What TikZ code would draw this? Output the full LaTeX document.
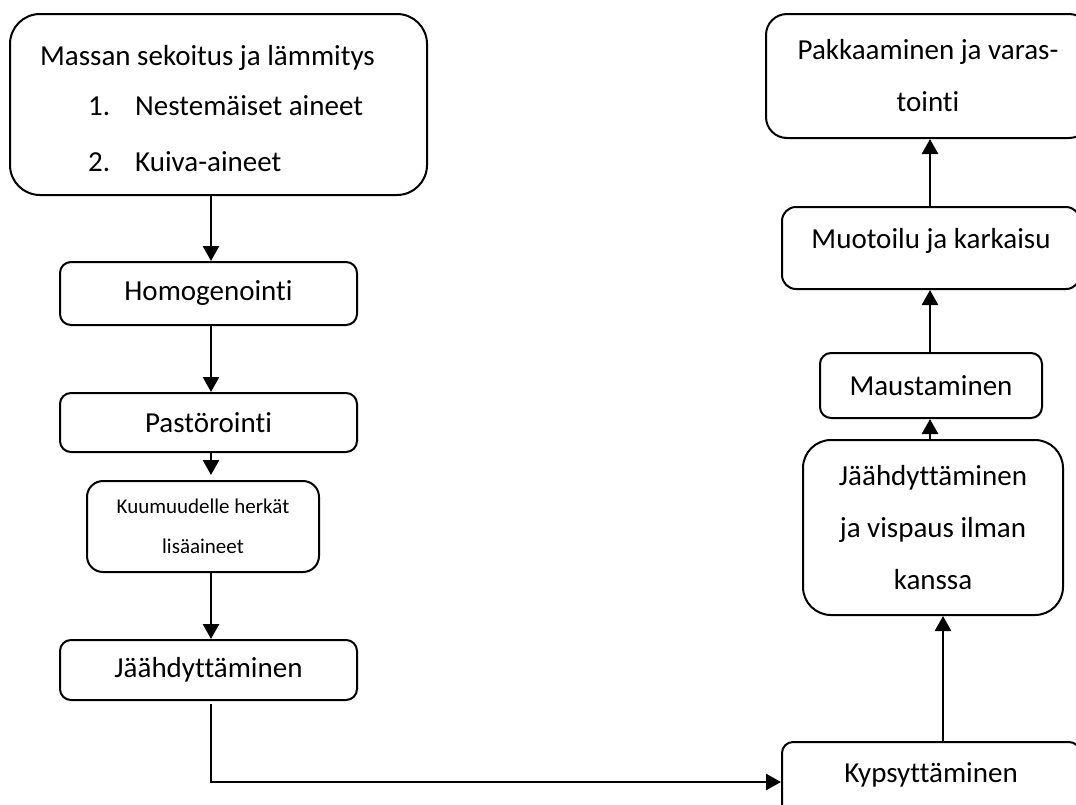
\documentclass[tikz,border=0pt]{standalone}
\usepackage{fontspec}
\setmainfont{Carlito}[RawFeature={-liga;-clig;-calt;-rlig;-dlig}]
\usetikzlibrary{arrows.meta}
\newcommand{\nolig}{\kern0pt }
\begin{document}
\begin{tikzpicture}[x=1pt,y=-1pt,
  box/.style={draw, line width=2pt, inner sep=0pt, align=center, font=\fontsize{29}{52}\selectfont},
  small/.style={font=\fontsize{21}{40}\selectfont},
  arr/.style={line width=2.6pt, -{Triangle[length=15pt,width=16pt]}},
  lbl/.style={anchor=base west, inner sep=0pt, font=\fontsize{29}{35}\selectfont}]
\fill[white] (0,0) rectangle (1076,804);
\useasboundingbox (0,0) rectangle (1076,804);

% left column
\node[box, rounded corners=30pt, minimum width=417pt, minimum height=181pt] (mix) at (218.5,104.5) {};
\node[lbl] (t0) at (40,65) {Massan sekoitus ja lämmitys};
\node[lbl] (n1) at (88,115) {1.};
\node[lbl] (t1) at (135,115) {Nestemäiset aineet};
\node[lbl] (n2) at (88,171) {2.};
\node[lbl] (t2) at (135,171) {Kuiva-aineet};

\node[box, rounded corners=11pt, minimum width=297pt, minimum height=63pt] (hom) at (208.5,293.5) {Homogenoint\nolig i};
\node[box, rounded corners=11pt, minimum width=297pt, minimum height=59pt] (pas) at (208.5,422.5) {Pastöroint\nolig i};
\node[box, small, rounded corners=16pt, minimum width=232pt, minimum height=91pt] (kuu) at (203,526.5) {Kuumuudelle herkät\\lisäaineet};
\node[box, rounded corners=11pt, minimum width=297pt, minimum height=60pt] (jaa) at (208.5,670) {Jäähdyttäminen};

% right column
\node[box, rounded corners=11pt, minimum width=298pt, minimum height=80pt, text height=18pt, text depth=18pt] (kyp) at (931,782) {Kypsyttäminen};
\node[box, rounded corners=28pt, minimum width=260pt, minimum height=175pt] (jv) at (933,527.5) {Jäähdyttäminen\\ja vispaus ilman\\kanssa};
\node[box, rounded corners=11pt, minimum width=222pt, minimum height=65pt] (mau) at (931,385.5) {Maustaminen};
\node[box, rounded corners=14pt, minimum width=298pt, minimum height=82pt, text height=18pt, text depth=18pt] (muo) at (931,248) {Muotoilu ja karkaisu};
\node[box, rounded corners=21pt, minimum width=324pt, minimum height=124pt] (pak) at (928,76) {Pakkaaminen ja varas-\\toint\nolig i};

% connectors
\draw[arr] ([xshift=2.5pt]hom.north |- mix.south) -- ([xshift=2.5pt]hom.north);
\draw[arr] ([xshift=2.5pt]pas.north |- hom.south) -- ([xshift=2.5pt]pas.north);
\draw[arr, shorten >=5pt] ([xshift=2.5pt]pas.south) -- ([xshift=2.5pt]pas.south |- kuu.north);
\draw[arr] ([xshift=2.5pt]jaa.north |- kuu.south) -- ([xshift=2.5pt]jaa.north);
\draw[arr] ([xshift=2.5pt,yshift=-3pt]jaa.south) |- (kyp.west);
\draw[arr] ([xshift=12pt]kyp.north) -- ([xshift=12pt]kyp.north |- jv.south);
\draw[arr] ([xshift=-1pt]mau.south |- jv.north) -- ([xshift=-1pt]mau.south);
\draw[arr] ([xshift=-1pt]muo.south |- mau.north) -- ([xshift=-1pt]muo.south);
\draw[arr] ([xshift=-1pt]muo.north) -- ([xshift=-1pt]muo.north |- pak.south);
\end{tikzpicture}
\end{document}
